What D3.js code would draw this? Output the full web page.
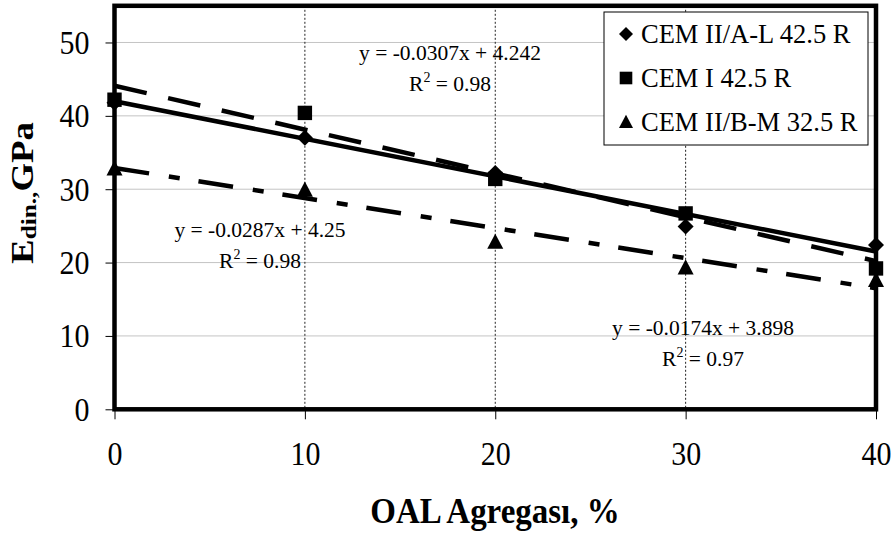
<!DOCTYPE html>
<html><head><meta charset="utf-8">
<script src="https://cdn.jsdelivr.net/npm/d3@7"></script>
<style>body{margin:0;background:#fff}svg{display:block}</style>
</head><body>
<svg id="c" width="895" height="533"></svg>
<script>
// ---- data ----
const xValues = [0, 10, 20, 30, 40];
const seriesNames = ["CEM II/A-L 42.5 R", "CEM I 42.5 R", "CEM II/B-M 32.5 R"];
const seriesShapes = ["diamond", "square", "triangle"];
const cemIIAL = [41.8, 37.0, 32.2, 24.9, 22.4];
const cemI = [42.2, 40.4, 31.4, 26.7, 19.2];
const cemIIBM = [32.8, 29.9, 22.8, 19.3, 17.6];
// trendline end values at x = 0 and x = 40
const trendIIAL = [42.0, 21.5];
const trendI = [44.1, 20.2];
const trendIIBM = [32.9, 16.5];
const trendX = [0, 40];
const eqLabels = [
  {eq: "y = -0.0307x + 4.242", r2: "0.98"},
  {eq: "y = -0.0287x + 4.25", r2: "0.98"},
  {eq: "y = -0.0174x + 3.898", r2: "0.97"}
];
const xTicks = [0, 10, 20, 30, 40];
const yTicks = [0, 10, 20, 30, 40, 50];
const xTitle = "OAL Agregası, %";

const FONT = "Liberation Serif, Times New Roman, serif";
const svg = d3.select("#c");
const L = 114.5, R = 876, T = 5.8, B = 409.3;
const x = d3.scaleLinear().domain([0, 40]).range([L, R]);
const y = d3.scaleLinear().domain([0, 55]).range([B, T]);

// gridlines
const g = svg.append("g");
g.selectAll(".hg").data(yTicks.filter(d => d > 0)).join("line")
  .attr("x1", L).attr("x2", R).attr("y1", d => y(d)).attr("y2", d => y(d))
  .attr("stroke", "#888").attr("stroke-width", 1).attr("stroke-dasharray", "1,1");
g.selectAll(".vg").data(xTicks.filter(d => d > 0 && d < 40)).join("line")
  .attr("y1", T).attr("y2", B).attr("x1", d => x(d)).attr("x2", d => x(d))
  .attr("stroke", "#222").attr("stroke-width", 1).attr("stroke-dasharray", "2,2");

// axes
const ax = svg.append("g").attr("transform", `translate(0,${B})`)
  .call(d3.axisBottom(x).tickValues(xTicks).tickSize(10).tickPadding(21));
const ay = svg.append("g").attr("transform", `translate(${L},0)`)
  .call(d3.axisLeft(y).tickValues(yTicks).tickSize(9).tickPadding(16));
[ax, ay].forEach(a => {
  a.select(".domain").remove();
  a.selectAll("line").attr("stroke", "#000");
  a.selectAll("text").attr("font-family", FONT).attr("font-size", 30).attr("fill", "#000")
    .each(function() {
      const t = d3.select(this);
      const tx = +t.attr("x") || 0, ty = +t.attr("y") || 0;
      t.attr("x", 0).attr("y", 0).attr("transform", `translate(${tx},${ty}) scale(1,1.15)`);
    });
});

// trendlines
const trends = [trendIIAL, trendI, trendIIBM];
const dashes = [null, "33,22", "35,20,11,19"];
const line = d3.line().x(d => x(d[0])).y(d => y(d[1]));
trends.forEach((t, i) => {
  svg.append("path").attr("d", line(trendX.map((xv, j) => [xv, t[j]])))
    .attr("fill", "none").attr("stroke", "#000").attr("stroke-width", 4.5)
    .attr("stroke-dasharray", dashes[i]);
});

// markers
function marker(sel, shape, cx, cy, s) {
  if (shape === "diamond") {
    sel.append("path").attr("d", `M${cx},${cy - s}L${cx + s},${cy}L${cx},${cy + s}L${cx - s},${cy}Z`);
  } else if (shape === "square") {
    sel.append("rect").attr("x", cx - s * 0.9).attr("y", cy - s * 0.9).attr("width", s * 1.8).attr("height", s * 1.8);
  } else {
    sel.append("path").attr("d", `M${cx},${cy - s * 1.05}L${cx + s},${cy + s * 0.85}L${cx - s},${cy + s * 0.85}Z`);
  }
}
const series = [cemIIAL, cemI, cemIIBM];
const mk = svg.append("g").attr("fill", "#000");
series.forEach((vals, i) => {
  vals.forEach((v, j) => marker(mk, seriesShapes[i], x(xValues[j]), y(v), 8));
});

// frame
svg.append("rect").attr("x", L).attr("y", T).attr("width", R - L).attr("height", B - T)
  .attr("fill", "none").attr("stroke", "#000").attr("stroke-width", 4.5);

// equation labels
const eqPos = [[450, 60], [260, 237], [703, 335]];
eqLabels.forEach((e, i) => {
  const [cx, by] = eqPos[i];
  svg.append("text").attr("font-family", FONT).attr("font-size", 21.5)
    .attr("text-anchor", "middle").attr("fill", "#000").attr("x", cx).attr("y", by).text(e.eq);
  const t2 = svg.append("text").attr("font-family", FONT).attr("font-size", 21.5)
    .attr("text-anchor", "middle").attr("fill", "#000").attr("x", cx).attr("y", by + 31);
  t2.append("tspan").text("R");
  t2.append("tspan").attr("font-size", 14).attr("dy", -9).text("2");
  t2.append("tspan").attr("dy", 9).text(" = " + e.r2);
});

// legend
const lg = svg.append("g");
lg.append("rect").attr("x", 604).attr("y", 12).attr("width", 264).attr("height", 133)
  .attr("fill", "#fff").attr("stroke", "#000").attr("stroke-width", 1);
const lgBase = [43, 87, 131];
seriesNames.forEach((n, i) => {
  marker(lg.append("g").attr("fill", "#000"), seriesShapes[i], 626, lgBase[i] - 9, 7);
  lg.append("text").attr("x", 641).attr("y", lgBase[i]).attr("font-family", FONT)
    .attr("font-size", 26.5).attr("fill", "#000").text(n);
});

// axis titles
svg.append("text").attr("transform", "translate(495,523) scale(1,1.1)").attr("text-anchor", "middle")
  .attr("font-family", FONT).attr("font-weight", "bold").attr("font-size", 33).text(xTitle);
const yt = svg.append("text").attr("transform", "translate(33,193) scale(1,1.15) rotate(-90)")
  .attr("text-anchor", "middle").attr("font-family", FONT).attr("font-weight", "bold").attr("font-size", 32);
yt.append("tspan").text("E");
yt.append("tspan").attr("font-size", 22).attr("dy", 3).text("din.,");
yt.append("tspan").attr("dy", -3).text("GPa");
</script>
</body></html>
